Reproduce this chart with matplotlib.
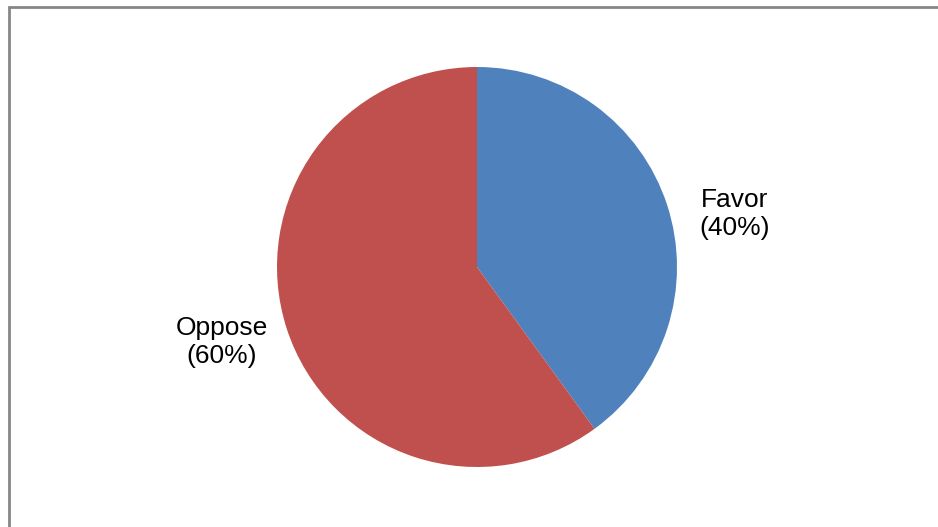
import matplotlib
matplotlib.use("Agg")
import matplotlib.pyplot as plt
from matplotlib.patches import Rectangle

categories = ["Favor", "Oppose"]
values = [40, 60]
colors = ["#4F81BD", "#C0504D"]
label_pos = [(1.29, 0.265), (-1.2775, -0.375)]

W, H = 938, 527
fig = plt.figure(figsize=(W / 100, H / 100), dpi=100)
fig.patch.set_facecolor("white")

# border frame
fig.add_artist(Rectangle((8.5 / W, -0.05), 1.1, (H - 6.5) / H + 0.05,
                         transform=fig.transFigure, fill=False,
                         edgecolor="#868686", linewidth=2.0))

cx, cy, r = 477, 267, 200
ax = fig.add_axes([(cx - r) / W, (H - cy - r) / H, 2 * r / W, 2 * r / H])
labels = [f"{c}\n({v}%)" for c, v in zip(categories, values)]
wedges, texts = ax.pie(values, colors=colors, startangle=90, counterclock=False,
                       labels=labels, radius=1.0,
                       textprops=dict(fontsize=19, family="Liberation Sans",
                                      ha="center", va="center", color="#000000",
                                      linespacing=1.2),
                       wedgeprops=dict(linewidth=0))
for t, p in zip(texts, label_pos):
    t.set_position(p)
    t.set_ha("center")
    t.set_va("center")
    t.set_multialignment("center")
ax.set_xlim(-1, 1)
ax.set_ylim(-1, 1)
ax.set_aspect("auto")
ax.axis("off")

fig.savefig("out.png", dpi=100, facecolor="white")
